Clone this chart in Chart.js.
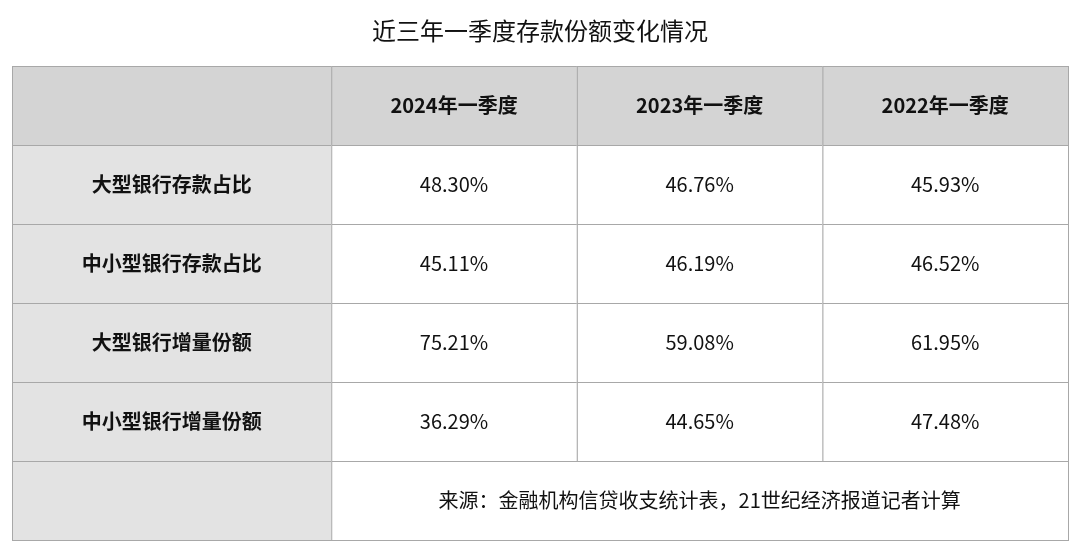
<!DOCTYPE html>
<html>
<head>
<meta charset="utf-8">
<script src="https://cdn.jsdelivr.net/npm/chart.js@4/dist/chart.umd.min.js"></script>
<style>
  body { margin: 0; background: #fff; }
  #wrap { width: 1080px; height: 550px; }
</style>
</head>
<body>
<div id="wrap"><canvas id="tbl"></canvas></div>
<script>
var title = '近三年一季度存款份额变化情况';
var columns = ['2024年一季度', '2023年一季度', '2022年一季度'];
var rows = ['大型银行存款占比', '中小型银行存款占比', '大型银行增量份额', '中小型银行增量份额'];
var v2024 = ['48.30%', '45.11%', '75.21%', '36.29%'];
var v2023 = ['46.76%', '46.19%', '59.08%', '44.65%'];
var v2022 = ['45.93%', '46.52%', '61.95%', '47.48%'];
var source = '来源：金融机构信贷收支统计表，21世纪经济报道记者计算';

// column edges in x units (first column is wider)
var colEdges = [0, 1.3, 2.3, 3.3, 4.3];
var font = '"Noto Sans CJK SC", "Noto Sans", sans-serif';

var values = [v2024, v2023, v2022];
var points = [];
values.forEach(function(col, c) {
  col.forEach(function(v, r) {
    points.push({ x: (colEdges[c + 1] + colEdges[c + 2]) / 2, y: r + 1.5, label: v });
  });
});

var tablePlugin = {
  id: 'tablePlugin',
  beforeDatasetsDraw: function(chart) {
    var ctx = chart.ctx, xs = chart.scales.x, ys = chart.scales.y;
    function rect(x0, x1, y0, y1, fill) {
      var a = xs.getPixelForValue(x0), b = xs.getPixelForValue(x1);
      var t = ys.getPixelForValue(y0), u = ys.getPixelForValue(y1);
      ctx.fillStyle = fill;
      ctx.fillRect(a, t, b - a, u - t);
      ctx.strokeStyle = '#a8a8a8';
      ctx.lineWidth = 1;
      ctx.strokeRect(a + 0.5, t + 0.5, b - a, u - t);
    }
    function text(s, x, y, bold) {
      ctx.fillStyle = '#111';
      ctx.font = (bold ? 'bold ' : '') + '20px ' + font;
      ctx.textAlign = 'center';
      ctx.textBaseline = 'middle';
      ctx.fillText(s, xs.getPixelForValue(x), ys.getPixelForValue(y));
    }
    ctx.save();
    // header row
    for (var c = 0; c < 4; c++) rect(colEdges[c], colEdges[c + 1], 0, 1, '#d4d4d4');
    columns.forEach(function(s, i) { text(s, (colEdges[i + 1] + colEdges[i + 2]) / 2, 0.5, true); });
    // body rows
    rows.forEach(function(s, r) {
      rect(colEdges[0], colEdges[1], r + 1, r + 2, '#e3e3e3');
      for (var c = 1; c < 4; c++) rect(colEdges[c], colEdges[c + 1], r + 1, r + 2, '#ffffff');
      text(s, (colEdges[0] + colEdges[1]) / 2, r + 1.5, true);
    });
    // source row
    rect(colEdges[0], colEdges[1], 5, 6, '#e3e3e3');
    rect(colEdges[1], colEdges[4], 5, 6, '#ffffff');
    text(source, (colEdges[1] + colEdges[4]) / 2, 5.5, false);
    // title
    ctx.fillStyle = '#111';
    ctx.font = '24px ' + font;
    ctx.textAlign = 'center';
    ctx.textBaseline = 'middle';
    ctx.fillText(title, 540, 31);
    ctx.restore();
  },
  afterDatasetsDraw: function(chart) {
    var ctx = chart.ctx;
    var meta = chart.getDatasetMeta(0);
    ctx.save();
    ctx.fillStyle = '#111';
    ctx.font = '20px ' + font;
    ctx.textAlign = 'center';
    ctx.textBaseline = 'middle';
    meta.data.forEach(function(el, i) {
      ctx.fillText(points[i].label, el.x, el.y);
    });
    ctx.restore();
  }
};

new Chart(document.getElementById('tbl'), {
  type: 'scatter',
  data: { datasets: [{ data: points, pointRadius: 0, pointHoverRadius: 0 }] },
  options: {
    responsive: true,
    maintainAspectRatio: false,
    animation: false,
    layout: { padding: { left: 12, right: 12, top: 66, bottom: 10 } },
    plugins: { legend: { display: false }, tooltip: { enabled: false } },
    scales: {
      x: { type: 'linear', min: 0, max: 4.3, display: false },
      y: { type: 'linear', min: 0, max: 6, reverse: true, display: false }
    }
  },
  plugins: [tablePlugin]
});
</script>
</body>
</html>
